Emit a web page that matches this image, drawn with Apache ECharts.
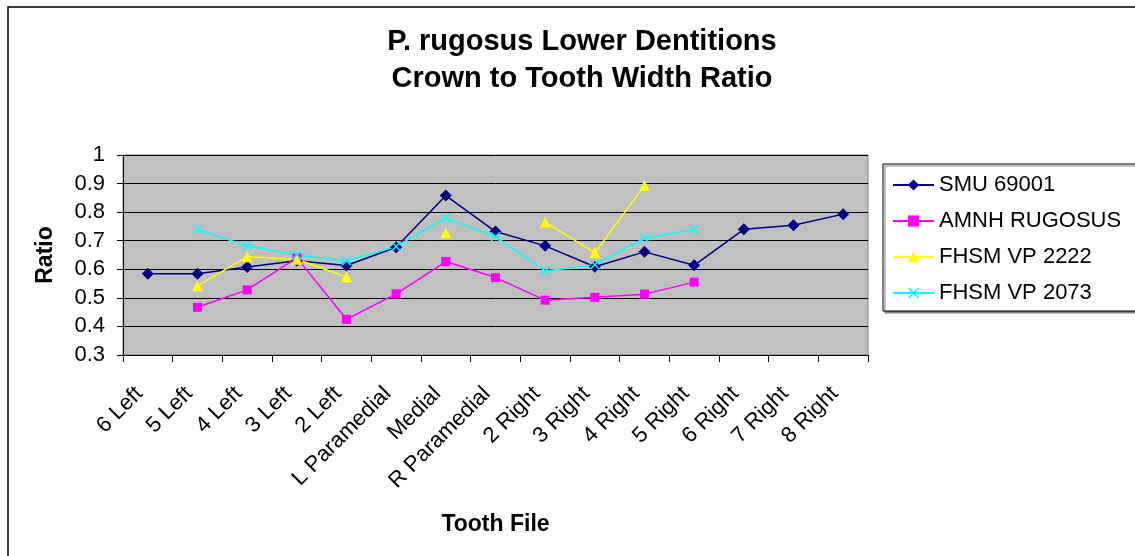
<!DOCTYPE html>
<html>
<head>
<meta charset="utf-8">
<title>P. rugosus Lower Dentitions</title>
<script src="https://cdn.jsdelivr.net/npm/echarts@6/dist/echarts.min.js"></script>
<style>
  html, body { margin: 0; padding: 0; background: #fff; }
  #chart { width: 1135px; height: 556px; }
</style>
</head>
<body>
<div id="chart"></div>
<script>
// Tooth positions along the lower jaw
const toothFiles = ['6 Left', '5 Left', '4 Left', '3 Left', '2 Left', 'L Paramedial', 'Medial',
  'R Paramedial', '2 Right', '3 Right', '4 Right', '5 Right', '6 Right', '7 Right', '8 Right'];

// Crown-to-tooth width ratios per specimen (null = tooth not measured)
const smu69001 = [0.584, 0.584, 0.608, 0.630, 0.613, 0.677, 0.858, 0.732, 0.682, 0.609, 0.661, 0.614, 0.740, 0.754, 0.793];
const amnhRugosus = [null, 0.467, 0.528, 0.640, 0.425, 0.514, 0.627, 0.571, 0.492, 0.502, 0.513, 0.555, null, null, null];
const fhsmVp2222 = [null, 0.542, 0.644, 0.635, 0.573, null, 0.728, null, 0.765, 0.658, 0.893, null, null, null, null];
const fhsmVp2073 = [null, 0.739, 0.682, 0.650, 0.630, 0.680, 0.780, 0.714, 0.594, 0.616, 0.709, 0.739, null, null, null];

// Y axis range
const yMin = 0.3;
const yMax = 1;
const yStep = 0.1;

const FONT = '"Liberation Sans", Arial, sans-serif';
const xMark = 'path://M0,1 L1,0 L5,4 L9,0 L10,1 L6,5 L10,9 L9,10 L5,6 L1,10 L0,9 L4,5 Z';

const chart = echarts.init(document.getElementById('chart'), null, { renderer: 'canvas' });

function lineSeries(name, data, color, symbol, size) {
  return {
    name: name,
    type: 'line',
    data: data,
    symbol: symbol,
    symbolSize: size,
    showAllSymbol: true,
    connectNulls: false,
    lineStyle: { color: color, width: 1.5 },
    itemStyle: { color: color },
    emphasis: { disabled: true },
    animation: false
  };
}

chart.setOption({
  animation: false,
  textStyle: { fontFamily: FONT },
  graphic: [{
    type: 'rect',
    shape: { x: 8, y: 7, width: 1140, height: 560 },
    style: { fill: 'none', stroke: '#000', lineWidth: 1.5 },
    silent: true
  }],
  title: {
    text: 'P. rugosus Lower Dentitions\nCrown to Tooth Width Ratio',
    left: 577,
    top: 18,
    textAlign: 'center',
    textStyle: { fontFamily: FONT, fontSize: 29, fontWeight: 'bold', color: '#000', lineHeight: 37 }
  },
  legend: {
    orient: 'vertical',
    left: 883,
    top: 164,
    padding: [10, 20, 7, 9],
    itemWidth: 41,
    itemHeight: 14,
    itemGap: 14,
    backgroundColor: '#fff',
    borderColor: '#000',
    borderWidth: 1,
    shadowColor: '#808080',
    shadowBlur: 0.5,
    shadowOffsetX: 2,
    shadowOffsetY: 2,
    textStyle: { fontFamily: FONT, fontSize: 22, color: '#000', lineHeight: 22, padding: [0, 0, 0, 0] },
    data: ['SMU 69001', 'AMNH RUGOSUS', 'FHSM VP 2222', 'FHSM VP 2073']
  },
  grid: {
    left: 123,
    right: 267,
    top: 155,
    bottom: 201,
    show: true,
    backgroundColor: '#C0C0C0',
    borderColor: '#808080',
    borderWidth: 1
  },
  xAxis: {
    type: 'category',
    data: toothFiles,
    boundaryGap: true,
    name: 'Tooth File',
    nameLocation: 'middle',
    nameGap: 158,
    nameTextStyle: { fontFamily: FONT, fontSize: 23, fontWeight: 'bold', color: '#000' },
    axisLine: { show: true, lineStyle: { color: '#000', width: 1 } },
    axisTick: { show: true, inside: false, length: 7, interval: 0, lineStyle: { color: '#000' } },
    axisLabel: {
      rotate: 45, interval: 0, margin: 27, padding: [0, 12, 0, 0],
      fontFamily: FONT, fontSize: 22, color: '#000'
    },
    splitLine: { show: false }
  },
  yAxis: {
    type: 'value',
    min: yMin,
    max: yMax,
    interval: yStep,
    name: 'Ratio',
    nameLocation: 'middle',
    nameGap: 66,
    nameRotate: 90,
    nameTextStyle: { fontFamily: FONT, fontSize: 23, fontWeight: 'bold', color: '#000' },
    axisLine: { show: true, lineStyle: { color: '#000', width: 1 } },
    axisTick: { show: true, inside: false, length: 6, lineStyle: { color: '#000' } },
    axisLabel: {
      margin: 18, fontFamily: FONT, fontSize: 22, color: '#000',
      formatter: function (v) { return String(Math.round(v * 10) / 10); }
    },
    splitLine: { show: true, lineStyle: { color: '#000', width: 1 } }
  },
  series: [
    lineSeries('SMU 69001', smu69001, '#000080', 'diamond', 12),
    lineSeries('AMNH RUGOSUS', amnhRugosus, '#FF00FF', 'rect', 9),
    lineSeries('FHSM VP 2222', fhsmVp2222, '#FFFF00', 'triangle', 11),
    lineSeries('FHSM VP 2073', fhsmVp2073, '#00FFFF', xMark, 10)
  ]
});
</script>
</body>
</html>
